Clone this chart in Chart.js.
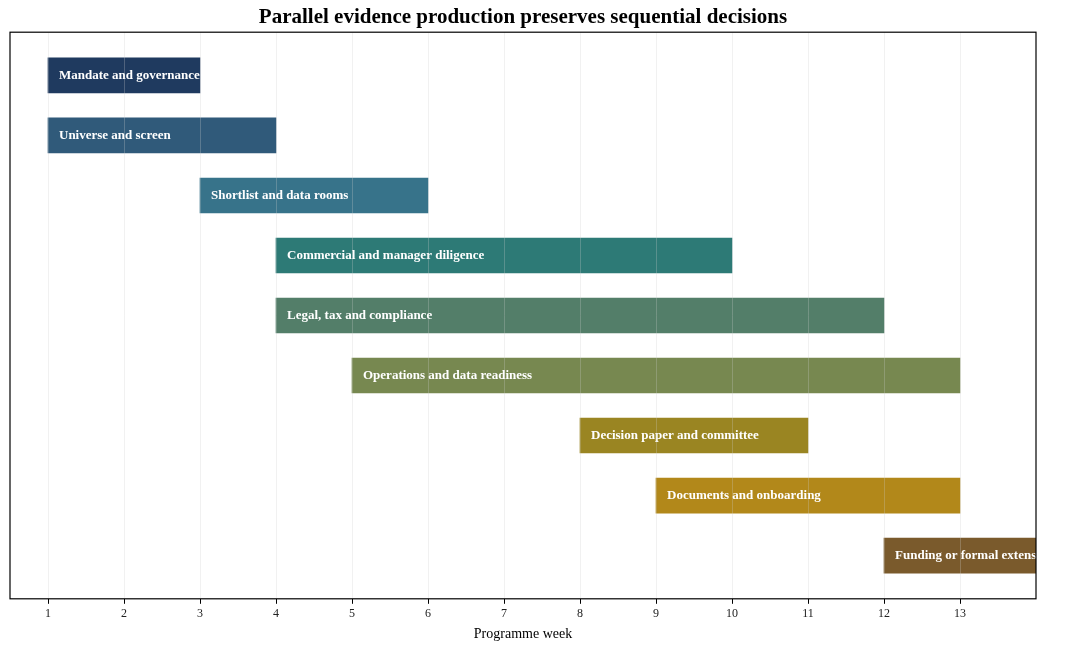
<!DOCTYPE html>
<html>
<head>
<meta charset="utf-8">
<script src="https://cdn.jsdelivr.net/npm/chart.js@4/dist/chart.umd.min.js"></script>
<style>
  html, body { margin: 0; padding: 0; background: #fff; }
  #wrap { width: 1066px; height: 650px; }
</style>
</head>
<body>
<div id="wrap"><canvas id="canvas"></canvas></div>
<script>
// workstreams, top to bottom
const tasks = [
  'Mandate and governance',
  'Universe and screen',
  'Shortlist and data rooms',
  'Commercial and manager diligence',
  'Legal, tax and compliance',
  'Operations and data readiness',
  'Decision paper and committee',
  'Documents and onboarding',
  'Funding or formal extension'
];
const startWeek = [1, 1, 3, 4, 4, 5, 8, 9, 12];
const endWeek   = [3, 4, 6, 10, 12, 13, 11, 13, 15];
const weekTicks = [1, 2, 3, 4, 5, 6, 7, 8, 9, 10, 11, 12, 13];
const barColors = ['#1f3a5f', '#305a7a', '#37738a', '#2d7a76', '#537e69', '#778850', '#9a8522', '#b2881a', '#7a5a2c'];

const serif = '"Liberation Serif", "Times New Roman", serif';

// write the task name inside each bar, clipped to the plot box
const barLabels = {
  id: 'barLabels',
  afterDatasetsDraw(chart) {
    const ctx = chart.ctx, area = chart.chartArea;
    const meta = chart.getDatasetMeta(0);
    ctx.save();
    ctx.beginPath();
    ctx.rect(area.left, area.top, area.right - area.left, area.bottom - area.top);
    ctx.clip();
    ctx.font = 'bold 13px ' + serif;
    ctx.fillStyle = '#ffffff';
    ctx.textBaseline = 'middle';
    meta.data.forEach((bar, i) => {
      const left = Math.min(bar.x, bar.base);
      ctx.fillText(tasks[i], left + 11, bar.y);
    });
    ctx.restore();
  },
  afterDraw(chart) {
    const ctx = chart.ctx, a = chart.chartArea;
    ctx.save();
    ctx.strokeStyle = '#000';
    ctx.lineWidth = 1.2;
    ctx.strokeRect(a.left, a.top, a.right - a.left, a.bottom - a.top);
    ctx.restore();
  }
};

new Chart(document.getElementById('canvas'), {
  type: 'bar',
  data: {
    datasets: [{
      data: tasks.map((t, i) => ({ y: i, x: [startWeek[i], endWeek[i]] })),
      backgroundColor: barColors,
      borderWidth: 0,
      borderSkipped: false,
      barThickness: 35
    }]
  },
  options: {
    indexAxis: 'y',
    responsive: true,
    maintainAspectRatio: false,
    animation: false,
    layout: { padding: { left: 10, right: 30, top: 0, bottom: 7 } },
    plugins: {
      legend: { display: false },
      tooltip: { enabled: false },
      title: {
        display: true,
        text: 'Parallel evidence production preserves sequential decisions',
        color: '#000',
        font: { family: serif, size: 21, weight: 'bold' },
        padding: { top: 5, bottom: 2 }
      }
    },
    scales: {
      x: {
        type: 'linear',
        min: 0.5,
        max: 14,
        afterBuildTicks: (scale) => { scale.ticks = weekTicks.map(v => ({ value: v })); },
        grid: {
          z: 1,
          color: 'rgba(205,205,205,0.28)',
          drawTicks: true,
          tickLength: 5,
          tickColor: '#000'
        },
        border: { display: false },
        ticks: {
          color: '#222',
          padding: 3,
          font: { family: serif, size: 12 },
          maxRotation: 0
        },
        title: {
          display: true,
          text: 'Programme week',
          color: '#000',
          padding: { top: 2, bottom: 0 },
          font: { family: serif, size: 14 }
        }
      },
      y: {
        type: 'linear',
        position: 'left',
        reverse: true,
        offset: false,
        min: -0.72,
        max: 8.72,
        display: false,
        grid: { display: false }
      }
    }
  },
  plugins: [barLabels]
});
</script>
</body>
</html>
